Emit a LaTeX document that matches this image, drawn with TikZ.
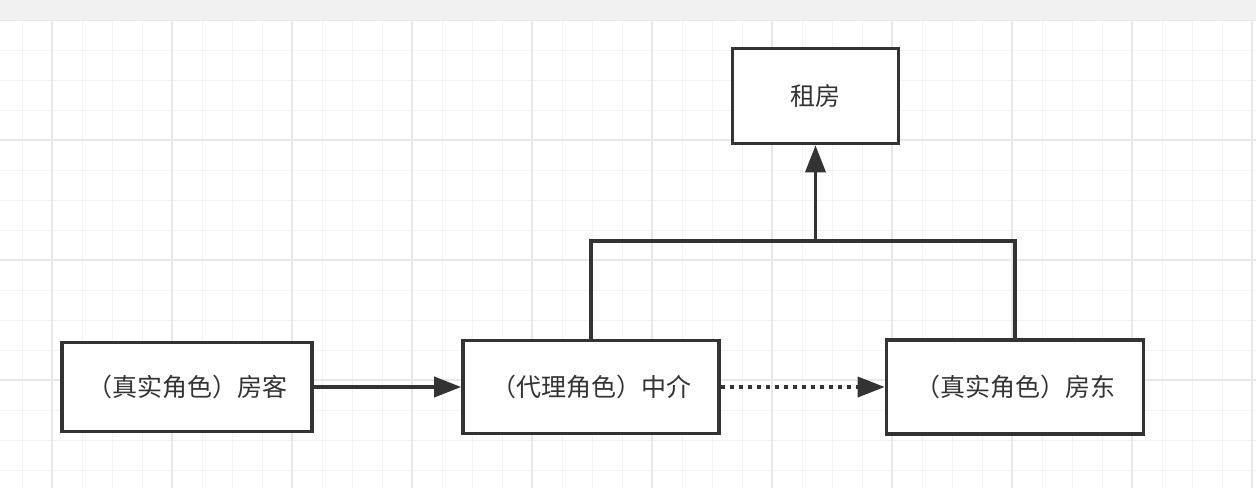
\documentclass[tikz,border=0pt]{standalone}
\usepackage{fontspec}
\newfontfamily\cjk{Noto Sans CJK SC}
\usetikzlibrary{arrows.meta}
\definecolor{ink}{HTML}{333333}
\definecolor{gridminor}{HTML}{F3F3F3}
\definecolor{gridmajor}{HTML}{E8E8E8}
\definecolor{band}{HTML}{F1F1F1}
\tikzset{
  box/.style={draw=ink, line width=3.6pt, fill=white, inner sep=0pt,
    font=\cjk\fontsize{25pt}{30pt}\selectfont, text=ink},
  conn/.style={draw=ink, line width=3.6pt},
  tip/.style={-{Triangle[length=27pt,width=20pt]}},
  dots/.style={dash pattern=on 4.5pt off 4.5pt},
  gminor/.style={draw=gridminor, line width=1pt},
  gmajor/.style={draw=gridmajor, line width=1.2pt}
}
\begin{document}
\begin{tikzpicture}[x=1pt,y=-1pt]
\useasboundingbox (0,0) rectangle (1256,488);
\fill[white] (0,0) rectangle (1256,488);
% grid
\foreach \x in {22,52,...,1252} \draw[gminor] (\x,20) -- (\x,488);
\foreach \y in {50,80,...,470} \draw[gminor] (0,\y) -- (1256,\y);
\foreach \x in {52,172,...,1252} \draw[gmajor] (\x,20) -- (\x,488);
\foreach \y in {140,260,380} \draw[gmajor] (0,\y) -- (1256,\y);
% top band
\fill[band] (0,0) rectangle (1256,20);
\draw[gridmajor, line width=1pt] (0,20.5) -- (1256,20.5);
% nodes
\node[box, minimum width=250pt, minimum height=89pt] (tenant) at (187,387) {（真实角色）房客};
\node[box, minimum width=256pt, minimum height=93pt] (agent) at (591,387) {（代理角色）中介};
\node[box, minimum width=257pt, minimum height=94pt] (owner) at (1015,387) {（真实角色）房东};
\node[box, minimum width=166pt, minimum height=95pt] (rent) at (815.5,96) {租房};
\coordinate (j) at (815.5,241);
% connectors
\draw[conn, tip] (tenant) -- (agent);
\draw[conn, tip, dots] (agent) -- (owner);
\draw[conn] (agent.north) |- (j) -| (owner.north);
\draw[conn, tip] (j) -- (rent.south);
\end{tikzpicture}
\end{document}
